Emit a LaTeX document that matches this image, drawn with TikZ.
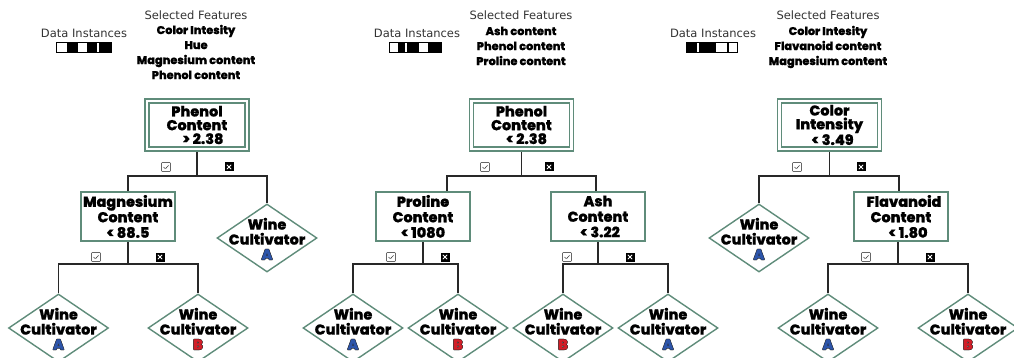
\documentclass[tikz,border=0pt]{standalone}
\usepackage{fontspec}
\setmainfont{DejaVu Sans}
\IfFontExistsTF{Poppins ExtraBold}
  {\newfontfamily\popfont{Poppins}[BoldFont={Poppins ExtraBold},BoldFeatures={FakeBold=0.8}]}
  {\newfontfamily\popfont{Poppins}[BoldFeatures={FakeBold=1.4}]}
\usetikzlibrary{shapes.geometric,calc,backgrounds}

\definecolor{frame}{RGB}{95,140,122}
\definecolor{wirecol}{RGB}{40,40,40}
\definecolor{clsA}{RGB}{45,85,170}
\definecolor{clsB}{RGB}{210,30,40}

% class letter with a thin dark outline
\newcommand\cls[2]{{\setbox0\hbox{#2}%
  \rlap{\color{black!85}\hspace{-0.5pt}\copy0}%
  \rlap{\color{black!85}\hspace{0.5pt}\copy0}%
  \rlap{\color{black!85}\raisebox{0.5pt}{\copy0}}%
  \rlap{\color{black!85}\raisebox{-0.5pt}{\copy0}}%
  \color{#1}\copy0}}
\newcommand\clsA{\cls{clsA}{A}}
\newcommand\clsB{\cls{clsB}{B}}

\begin{document}
\begin{tikzpicture}[x=1pt,y=-1pt,
  lab/.style={font=\fontsize{11.5}{14}\selectfont, text=black!80, inner sep=0pt},
  feat/.style={font=\popfont\bfseries\fontsize{11.3}{15}\selectfont, align=center, inner sep=0pt},
  cond/.style={rectangle, draw=frame, line width=1.8pt, fill=white,
    minimum width=94pt, minimum height=49pt, inner sep=0pt, align=center,
    font=\popfont\bfseries\fontsize{14.4}{15.5}\selectfont},
  rootbox/.style={cond, line width=1.8pt, double=white, double distance=2.2pt,
    minimum width=100pt, minimum height=48pt,
    font=\popfont\bfseries\fontsize{14.4}{13.75}\selectfont},
  leaf/.style={diamond, draw=frame, line width=1.4pt, fill=white,
    minimum width=100pt, minimum height=68pt, inner sep=0pt},
  leaftxt/.style={font=\popfont\bfseries\fontsize{14.4}{15}\selectfont, align=center, inner sep=0pt},
  wire/.style={draw=wirecol, line width=1.3pt},
  yesbox/.style={rectangle, draw=black!60, fill=white, line width=0.6pt,
    minimum size=9pt, inner sep=0pt, rounded corners=0.8pt,
    path picture={\draw[black!75, line width=0.6pt]
      ($(path picture bounding box.center)+(-2.5pt,0pt)$) -- ++(1.8pt,-1.9pt) -- ++(3.2pt,3.5pt);}},
  nobox/.style={rectangle, fill=black, minimum size=9pt, inner sep=0pt,
    path picture={\draw[white, line width=0.8pt]
      ($(path picture bounding box.center)+(-2.2pt,-2.2pt)$) -- ++(4.4pt,4.4pt)
      ($(path picture bounding box.center)+(-2.2pt,2.2pt)$) -- ++(4.4pt,-4.4pt);}},
  barframe/.style={draw=black, line width=0.7pt}
]
\useasboundingbox (0,0) rectangle (1014,358);
\clip (0,0) rectangle (1014,358);

% ---------------- first tree ----------------
\node[lab] (di1) at (84,33) {Data Instances};
\fill (66.7,42) rectangle (77.7,52);
\fill (86.7,42) rectangle (96.7,52);
\fill (99.3,42) rectangle (111,52);
\draw[barframe] (56.7,42) rectangle (111,52);
\node[lab] (sf1) at (196,15) {Selected Features};
\node[feat] (fl1) at (196,52) {Color Intesity\\Hue\\Magnesium content\\Phenol content};

\node[rootbox] (root1) at (197,125) {Phenol\\Content\\\hspace*{12pt}> 2.38};
\coordinate (j1) at (197,176);
\node[cond] (mag1) at (128,216.5) {Magnesium\\Content\\< 88.5};
\node[leaf] (d1) at (267,238) {};
\node[leaftxt] (t1) at (267,239) {Wine\\Cultivator\\\clsA};
\coordinate (j2) at (128,264);
\node[leaf] (d2) at (58.5,328) {};
\node[leaftxt] (t2) at (58.5,329) {Wine\\Cultivator\\\clsA};
\node[leaf] (d3) at (198,328) {};
\node[leaftxt] (t3) at (198,329) {Wine\\Cultivator\\\clsB};
\node[yesbox] (y1) at (166,167) {};
\node[nobox] (n1) at (229,167) {};
\node[yesbox] (y2) at (96,257) {};
\node[nobox] (n2) at (160,257) {};

% ---------------- second tree ----------------
\node[lab] (di2) at (417,33) {Data Instances};
\fill (398.3,42) rectangle (405,52);
\fill (407.3,42) rectangle (419,52);
\fill (427.7,42) rectangle (441.7,52);
\draw[barframe] (389.3,42) rectangle (441.7,52);
\node[lab] (sf2) at (521,15) {Selected Features};
\node[feat] (fl2) at (521,46) {Ash content\\Phenol content\\Proline content};

\node[rootbox] (root2) at (521.5,125) {Phenol\\Content\\\hspace*{10pt}< 2.38};
\coordinate (j3) at (521.5,176);
\node[cond] (pro2) at (423,216.5) {Proline\\Content\\< 1080};
\node[cond] (ash2) at (598,216.5) {Ash\\Content\\\hspace*{4pt}< 3.22};
\coordinate (j4) at (423,264);
\coordinate (j5) at (598,264);
\node[leaf] (d4) at (353,328) {};
\node[leaftxt] (t4) at (353,329) {Wine\\Cultivator\\\clsA};
\node[leaf] (d5) at (458,328) {};
\node[leaftxt] (t5) at (458,329) {Wine\\Cultivator\\\clsB};
\node[leaf] (d6) at (563,328) {};
\node[leaftxt] (t6) at (563,329) {Wine\\Cultivator\\\clsB};
\node[leaf] (d7) at (668,328) {};
\node[leaftxt] (t7) at (668,329) {Wine\\Cultivator\\\clsA};
\node[yesbox] (y3) at (485,167) {};
\node[nobox] (n3) at (549,167) {};
\node[yesbox] (y4) at (391,257) {};
\node[nobox] (n4) at (445,257) {};
\node[yesbox] (y5) at (567,257) {};
\node[nobox] (n5) at (630,257) {};

% ---------------- third tree ----------------
\node[lab] (di3) at (713,33) {Data Instances};
\fill (686,42) rectangle (697.3,52);
\fill (699.3,42) rectangle (716,52);
\fill (726.7,42) rectangle (728.7,52);
\draw[barframe] (686,42) rectangle (737.3,52);
\node[lab] (sf3) at (828,15) {Selected Features};
\node[feat] (fl3) at (828,47) {Color Intesity\\Flavanoid content\\Magnesium content};

\node[rootbox] (root3) at (829.5,125) {Color\\Intensity\\\hspace*{6pt}< 3.49};
\coordinate (j6) at (829.5,176);
\node[leaf] (d8) at (759,238) {};
\node[leaftxt] (t8) at (759,239) {Wine\\Cultivator\\\clsA};
\node[cond] (fla3) at (901,216.5) {\hspace*{6pt}Flavanoid\\Content\\\hspace*{14pt}< 1.80};
\coordinate (j7) at (898,264);
\node[leaf] (d9) at (828,328) {};
\node[leaftxt] (t9) at (828,329) {Wine\\Cultivator\\\clsA};
\node[leaf] (d10) at (968,328) {};
\node[leaftxt] (t10) at (968,329) {Wine\\Cultivator\\\clsB};
\node[yesbox] (y6) at (797,167) {};
\node[nobox] (n6) at (861,167) {};
\node[yesbox] (y7) at (866,257) {};
\node[nobox] (n7) at (930,257) {};

% ---------------- connectors ----------------
\begin{scope}[on background layer]
  \draw[wire] (root1.south) -- (j1);
  \draw[wire] (mag1.north) |- (j1) -| (d1.north);
  \draw[wire] (mag1.south) -- (j2);
  \draw[wire] (d2.north) |- (j2) -| (d3.north);

  \draw[wire] (root2.south) -- (j3);
  \draw[wire] ([xshift=24pt]pro2.north) |- (j3) -| ([xshift=-2pt]ash2.north);
  \draw[wire] (pro2.south) -- (j4);
  \draw[wire] (d4.north) |- (j4) -| (d5.north);
  \draw[wire] (ash2.south) -- (j5);
  \draw[wire] (d6.north) |- (j5) -| (d7.north);

  \draw[wire] (root3.south) -- (j6);
  \draw[wire] (d8.north) |- (j6) -| ([xshift=-2pt]fla3.north);
  \draw[wire] ([xshift=-3pt]fla3.south) -- (j7);
  \draw[wire] (d9.north) |- (j7) -| (d10.north);
\end{scope}
\end{tikzpicture}
\end{document}
